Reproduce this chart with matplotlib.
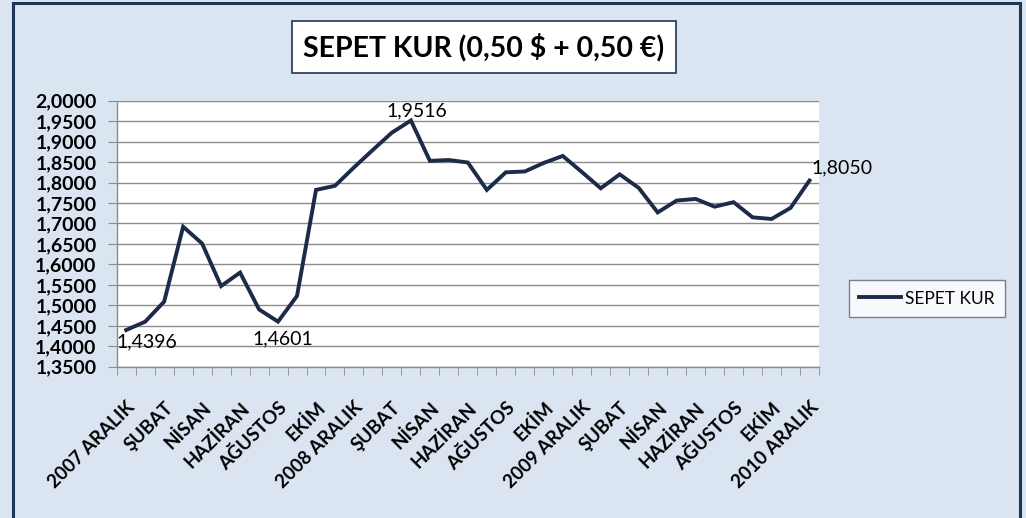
import matplotlib
matplotlib.use("Agg")
import matplotlib.pyplot as plt
from matplotlib.patches import Rectangle
from matplotlib.ticker import FuncFormatter, FixedLocator, MultipleLocator

plt.rcParams['font.family'] = ['Lato', 'DejaVu Sans']

# ── Data ────────────────────────────────────────────────────────────────
months = ['2007 ARALIK', 'OCAK', 'ŞUBAT', 'MART', 'NİSAN', 'MAYIS', 'HAZİRAN',
          'TEMMUZ', 'AĞUSTOS', 'EYLÜL', 'EKİM', 'KASIM',
          '2008 ARALIK', 'OCAK', 'ŞUBAT', 'MART', 'NİSAN', 'MAYIS', 'HAZİRAN',
          'TEMMUZ', 'AĞUSTOS', 'EYLÜL', 'EKİM', 'KASIM',
          '2009 ARALIK', 'OCAK', 'ŞUBAT', 'MART', 'NİSAN', 'MAYIS', 'HAZİRAN',
          'TEMMUZ', 'AĞUSTOS', 'EYLÜL', 'EKİM', 'KASIM',
          '2010 ARALIK']
sepet = [1.4396, 1.4600, 1.5090, 1.6920, 1.6510, 1.5470, 1.5800,
         1.4900, 1.4601, 1.5230, 1.7820, 1.7920,
         1.8370, 1.8800, 1.9220, 1.9516, 1.8530, 1.8550, 1.8490,
         1.7820, 1.8250, 1.8270, 1.8480, 1.8650,
         1.8260, 1.7860, 1.8200, 1.7870, 1.7270, 1.7560, 1.7600,
         1.7410, 1.7520, 1.7150, 1.7110, 1.7380,
         1.8050]
# (index, x offset px, y offset px) for the labelled points
labelled = [(0, 21, -12), (8, 5, -17), (15, 6, 10), (36, 33, 13)]

BG = '#DBE5F1'
NAVY = '#1B2B48'
FRAME = '#1F3558'
GRID = '#8C8C8C'

fig = plt.figure(figsize=(10.26, 5.18), dpi=100, facecolor=BG)

# outer frame (left, top, right visible)
fig.patches.append(Rectangle((13 / 1026, -0.2), 1007 / 1026, 1.2 - 3 / 518,
                             transform=fig.transFigure, fill=False,
                             ec=FRAME, lw=2.2, zorder=0))

ax = fig.add_axes([116.7 / 1026, 151.3 / 518, 702.3 / 1026, 266 / 518])
ax.set_facecolor('white')

x = list(range(len(months)))
ax.plot(x, sepet, color=NAVY, lw=2.8, solid_joinstyle='miter', label='SEPET KUR')

ax.set_xlim(-0.5, len(months) - 0.5)
ax.set_ylim(1.35, 2.0)

# y axis
ax.yaxis.set_major_locator(MultipleLocator(0.05))
ax.yaxis.set_major_formatter(FuncFormatter(lambda v, p: f'{v:.4f}'.replace('.', ',')))
ax.grid(axis='y', color=GRID, lw=1.0)
ax.set_axisbelow(True)
ax.tick_params(axis='y', length=6.5, color=GRID, labelsize=14, pad=8)
for t in ax.get_yticklabels():
    t.set_fontweight('bold')

# x axis: ticks at category boundaries, labels every 2nd category
ax.xaxis.set_major_locator(FixedLocator(x[::2]))
ax.set_xticklabels(months[::2], rotation=45, ha='right', va='top',
                   rotation_mode='anchor', fontsize=13.5, fontweight='bold')
ax.xaxis.set_minor_locator(FixedLocator([i - 0.5 for i in range(len(months) + 1)]))
ax.tick_params(axis='x', which='major', length=0, pad=23)
ax.tick_params(axis='x', which='minor', length=6, color=GRID)

for s in ['top', 'right']:
    ax.spines[s].set_visible(False)
for s in ['left', 'bottom']:
    ax.spines[s].set_color(GRID)
    ax.spines[s].set_linewidth(1.0)

# data labels
for i, dx, dy in labelled:
    ax.annotate(f'{sepet[i]:.4f}'.replace('.', ','), (x[i], sepet[i]),
                xytext=(dx, dy), textcoords='offset pixels',
                ha='center', va='center', fontsize=14, color='black')

# title
fig.text(484 / 1026, 1 - 47 / 518, 'SEPET KUR (0,50 $ + 0,50 €)',
         ha='center', va='center', fontsize=20.5, fontweight='bold', color='black',
         bbox=dict(boxstyle='square,pad=0.4', fc='white', ec=FRAME, lw=1.2))

# legend
leg = ax.legend(loc='center left', bbox_to_anchor=(849 / 1026, 1 - 298.5 / 518),
                bbox_transform=fig.transFigure, fontsize=12.5, frameon=True,
                fancybox=False, handlelength=2.4, handletextpad=0.25,
                borderpad=0.6, borderaxespad=0)
leg.get_frame().set_edgecolor('#5A6474')
leg.get_frame().set_linewidth(1.0)

fig.savefig('out.png', dpi=100, facecolor=BG)
